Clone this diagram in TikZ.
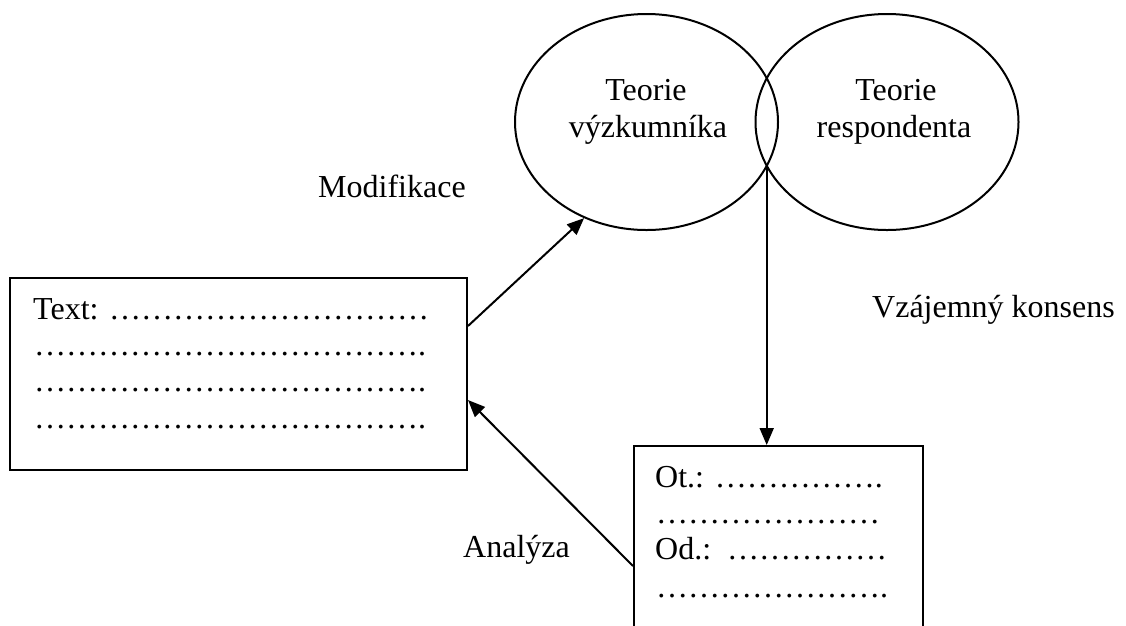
\documentclass[tikz,border=0pt]{standalone}
\usepackage{fontspec}
\setmainfont{Liberation Serif}
\usetikzlibrary{arrows.meta,shapes.geometric}
\newcommand\myE{…}
\begin{document}
\begin{tikzpicture}[x=1pt,y=-1pt,
  every node/.style={font=\fontsize{32}{36.5}\selectfont},
  arr/.style={line width=2pt,-{Triangle[length=17pt,width=14pt]}},
  bubble/.style={draw,line width=2pt,ellipse,minimum width=263pt,minimum height=216pt,inner sep=0pt},
  tbox/.style={draw,line width=2pt,rectangle,inner sep=0pt},
  txt/.style={anchor=base west,inner sep=0pt},
  ctxt/.style={anchor=base,inner sep=0pt}]
\useasboundingbox[fill=white] (0,0) rectangle (1126,625);
% ellipses
\node[bubble] (e1) at (646.5,122) {};
\node[bubble] (e2) at (887,122) {};
\node[ctxt] (t1a) at (646,100) {Teorie};
\node[ctxt] (t1b) at (648,137) {výzkumníka};
\node[ctxt] (t2a) at (896,100) {Teorie};
\node[ctxt] (t2b) at (894,137) {respondenta};
% left text box
\node[tbox,minimum width=457pt,minimum height=192pt] (lb) at (238.5,374) {};
\node[txt] (l1) at (33,319) {Text: \myE\myE\myE\myE\myE\myE\myE\myE\myE\myE};
\node[txt] (l2) at (34,355.5) {\myE\myE\myE\myE\myE\myE\myE\myE\myE\myE\myE\myE.};
\node[txt] (l3) at (34,391.5) {\myE\myE\myE\myE\myE\myE\myE\myE\myE\myE\myE\myE.};
\node[txt] (l4) at (34,428) {\myE\myE\myE\myE\myE\myE\myE\myE\myE\myE\myE\myE.};
% lower right box (bottom cut off)
\begin{scope}
\clip (0,0) rectangle (1126,625);
\node[tbox,minimum width=289pt,minimum height=200pt] (ob) at (778.5,546) {};
\end{scope}
\node[txt] (o1) at (655,487) {Ot.: \myE\myE\myE\myE\myE.};
\node[txt] (o2) at (656,523) {\myE\myE\myE\myE\myE\myE\myE};
\node[txt] (o3) at (655,559) {Od.:\hspace{16pt}\myE\myE\myE\myE\myE};
\node[txt] (o4) at (656,597) {\myE\myE\myE\myE\myE\myE\myE.};
% labels
\node[txt] (mod) at (318,197) {Modifikace};
\node[txt] (kon) at (872,317) {Vzájemný konsens};
\node[txt] (ana) at (463,557) {Analýza};
% connectors
\coordinate (isec) at (766.7,166);
\draw[arr] ([yshift=48pt]lb.east) -- (e1.237);
\draw[arr] (isec) -- (isec |- ob.north);
\draw[arr] ([yshift=-20pt]ob.west) -- ([yshift=-26pt]lb.east);
\end{tikzpicture}
\end{document}
